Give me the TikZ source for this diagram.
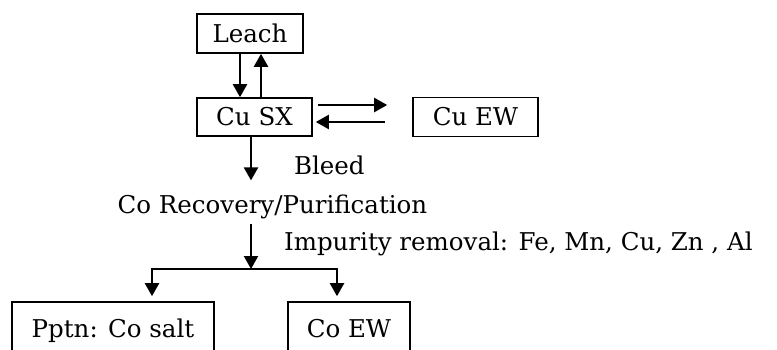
\documentclass[tikz,border=0pt]{standalone}
\usepackage{fontspec}
\setmainfont{DejaVu Serif}
\usetikzlibrary{arrows.meta}

\tikzstyle{pf-box}=[draw, line width=1.6pt, inner sep=0pt, text height=17pt, text depth=0pt]
\tikzstyle{pf-text}=[inner sep=0pt, text height=17pt, text depth=0pt]

\begin{document}
\begin{tikzpicture}[x=1pt, y=-1pt, line width=2.2pt,
    >={Triangle[length=13pt,width=14pt]},
    font=\fontsize{24.5}{28}\selectfont]
    \useasboundingbox (0,0) rectangle (777,349);
    \node[pf-box, minimum width=106pt, minimum height=39pt] (leach) at (250,33.5) {Leach};
    \node[pf-box, minimum width=115pt, minimum height=38pt] (cusx)  [below of=leach, node distance=83.5pt, xshift=4.5pt] {Cu SX};
    \node[pf-box, minimum width=125pt, minimum height=39pt] (cuew)  [right of=cusx, node distance=221pt] {Cu EW};
    \node[pf-text] (corec) [below of=cusx, node distance=88pt, xshift=18pt] {Co Recovery/Purification};
    \node[pf-box, minimum width=202pt, minimum height=53pt] (pptn) at (113,328.5) {Pptn: Co salt};
    \node[pf-box, minimum width=122pt, minimum height=53pt] (coew) at (349,328.5) {Co EW};
    \coordinate (split) at (251,269);
    % Cu loop
    \draw[->] ([xshift=-10pt]leach.south) -- ([xshift=-10pt]leach.south |- cusx.north);
    \draw[->] ([xshift=11pt]leach.south |- cusx.north) -- ([xshift=11pt]leach.south);
    \draw[->, shorten <=5pt, shorten >=25pt] ([yshift=12pt]cusx.east) -- ([yshift=12pt]cusx.east -| cuew.west);
    \draw[->, shorten <=27pt, shorten >=3pt] ([yshift=-5pt]cusx.east -| cuew.west) -- ([yshift=-5pt]cusx.east);
    % bleed to Co circuit
    \draw[->, shorten >=15pt] ([xshift=-3.5pt]cusx.south) -- ([xshift=-3.5pt]cusx.south |- corec.north)
        node[pf-text, midway, anchor=west, xshift=42pt] (bleed) {Bleed};
    \draw[->, shorten <=9pt] (corec.south -| split) -- (split)
        node[pf-text, midway, anchor=west, xshift=32pt] (imp) {Impurity removal: Fe, Mn, Cu, Zn , Al};
    \draw[->, shorten >=5pt] (split) -| ([xshift=39pt]pptn.north);
    \draw[->, shorten >=5pt] (split) -| ([xshift=-12pt]coew.north);
\end{tikzpicture}
\end{document}
